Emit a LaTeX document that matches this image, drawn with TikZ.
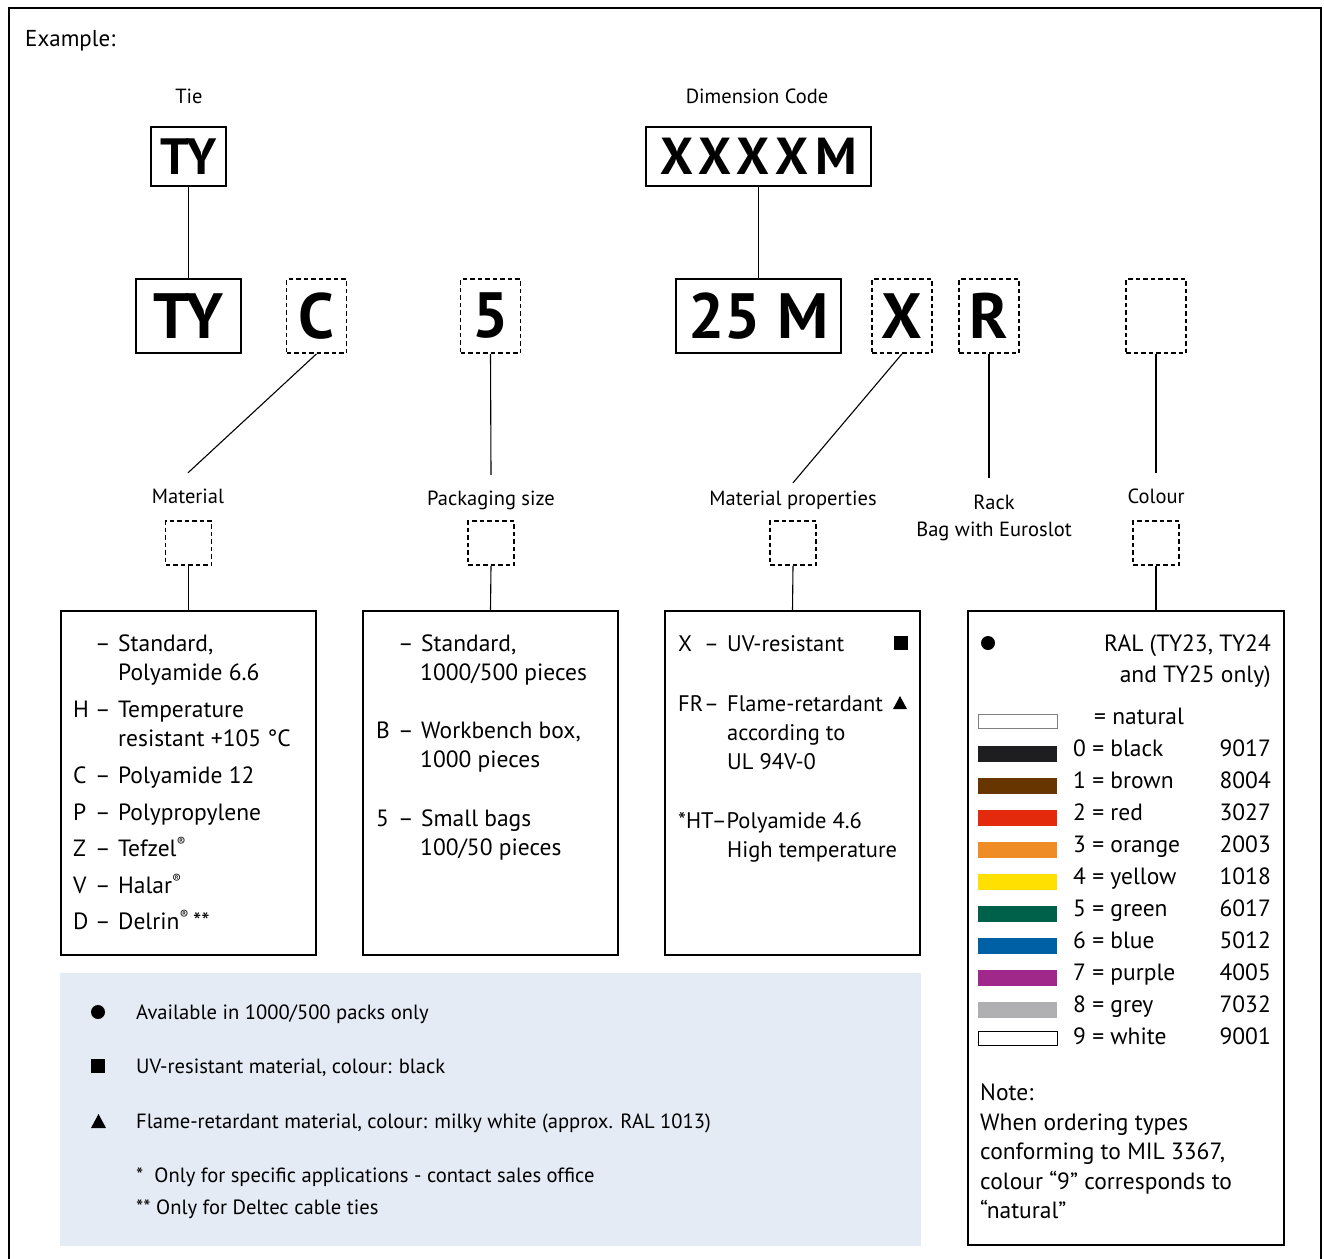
\documentclass[tikz,border=0pt]{standalone}
\usepackage{fontspec}
\setmainfont{PT Sans}

\definecolor{panelblue}{HTML}{E4EBF5}
\definecolor{ralblack}{HTML}{1E1E20}
\definecolor{ralbrown}{HTML}{673500}
\definecolor{ralred}{HTML}{E32A0C}
\definecolor{ralorange}{HTML}{F08C26}
\definecolor{ralyellow}{HTML}{FFE000}
\definecolor{ralgreen}{HTML}{00614A}
\definecolor{ralblue}{HTML}{0060A5}
\definecolor{ralpurple}{HTML}{A0288A}
\definecolor{ralgrey}{HTML}{B0B0B2}

\newcommand{\fsz}[1]{\fontsize{#1}{#1}\selectfont}
\newcommand{\reg}{\textsuperscript{\fsz{13}®}}
% letter, dash and text of one list entry
\newcommand{\entry}[3][22pt]{\makebox[#1][l]{#2}\makebox[23pt][l]{–}#3}

\tikzset{
  codebox/.style={draw, line width=1.3pt, inner sep=0pt, font=\bfseries\fsz{64}},
  optbox/.style={codebox, dash pattern=on 4.5pt off 3pt, line width=1.7pt,
    minimum width=60pt, minimum height=74pt},
  selbox/.style={draw, dash pattern=on 4.5pt off 3pt, line width=1.7pt,
    minimum width=46pt, minimum height=44pt, inner sep=0pt},
  capt/.style={font=\fsz{20.5}, align=center, inner sep=2pt, text height=14pt, text depth=4pt},
  listbox/.style={draw, line width=1.1pt, inner sep=0pt},
  txt/.style={anchor=base west, inner sep=0pt, font=\fsz{23.5}},
  rtxt/.style={anchor=base east, inner sep=0pt, font=\fsz{23.5}},
  ptxt/.style={txt, font=\fsz{22.5}},
  foot/.style={anchor=base west, inner sep=0pt, font=\fsz{20.6}},
  wire/.style={line width=1.1pt},
}

\begin{document}
\begin{tikzpicture}[x=1pt, y=-1pt]
\useasboundingbox (0,0) rectangle (1324,1258);

% frame, open at the bottom
\draw[line width=2.5pt] (9,1260) -- (9,8) -- (1321,8) -- (1321,1260);
\node[anchor=base west, inner sep=0pt, font=\fsz{23}] (example) at (25,46) {Example:};

% blue note panel
\fill[panelblue] (60,973) rectangle (921,1246);

% code heads
\node[capt] (tieCap) at (189,98) {Tie};
\node[capt] (dimCap) at (757,98) {Dimension Code};
\node[codebox, font=\bfseries\fsz{51}, minimum width=75pt, minimum height=59pt] (tyTop) at (188.5,156.5) {TY};
\node[codebox, font=\bfseries\fsz{52}\addfontfeature{LetterSpace=14}, minimum width=225pt, minimum height=59pt] (dimTop) at (758.5,156.5) {XXXXM};

% the example code
\node[codebox, minimum width=105pt, minimum height=74pt] (tyCode) at (188.5,316) {TY};
\node[optbox] (cOpt) at (316.5,316) {C};
\node[optbox] (fiveOpt) at (490.5,316) {5};
\node[codebox, minimum width=165pt, minimum height=74pt] (dimCode) at (758.5,316) {25 M};
\node[optbox] (xOpt) at (902,316) {X};
\node[optbox] (rOpt) at (989,316) {R};
\node[optbox] (colOpt) at (1156,316) {};

\draw[wire] (tyTop.south) -- (tyCode.north);
\draw[wire] (dimTop.south) -- (dimCode.north);

% captions of the options
\node[capt] (matCap) at (188,498) {Material};
\node[capt] (packCap) at (491,500) {Packaging size};
\node[capt] (propCap) at (793,500) {Material properties};
\node[capt, text height={}, text depth={}, font=\fontsize{20.5}{27}\selectfont] (rackCap) at (994,518) {Rack\\Bag with Euroslot};
\node[capt] (colCap) at (1156,498) {Colour};
\coordinate (rackTop) at (989,478);

\draw[wire] (cOpt.south) -- ([yshift=14pt]matCap.north);
\draw[wire] (fiveOpt.south) -- ([yshift=14pt]packCap.north);
\draw[wire] (xOpt.south) -- ([yshift=6pt]propCap.north);
\draw[wire] (rOpt.south) -- (rackTop);
\draw[wire] (colOpt.south) -- ([yshift=14pt]colCap.north);

% empty selection boxes
\node[selbox] (matSel) at (188.5,543) {};
\node[selbox] (packSel) at (491,543) {};
\node[selbox] (propSel) at (793,543) {};
\node[selbox] (colSel) at (1156,543) {};

% list boxes
\node[listbox, minimum width=255pt, minimum height=344pt] (matBox) at (188.5,783) {};
\node[listbox, minimum width=255pt, minimum height=344pt] (packBox) at (490.5,783) {};
\node[listbox, minimum width=255pt, minimum height=344pt] (propBox) at (792.5,783) {};
\node[listbox, minimum width=316pt, minimum height=634pt] (colBox) at (1126,928) {};

\draw[wire] (matSel.south) -- (matBox.north);
\draw[wire] (packSel.south) -- (packBox.north);
\draw[wire] (propSel.south) -- (propBox.north);
\draw[wire] (colSel.south) -- (colSel.south |- colBox.north);

% Material
\node[txt] (mat1) at (73,651) {\entry{}{Standard,}};
\node[txt] (mat1b) at (118,680) {Polyamide 6.6};
\node[txt] (mat2) at (73,717) {\entry{H}{Temperature}};
\node[txt] (mat2b) at (118,746) {resistant +105 °C};
\node[txt] (mat3) at (73,783) {\entry{C}{Polyamide 12}};
\node[txt] (mat4) at (73,820) {\entry{P}{Polypropylene}};
\node[txt] (mat5) at (73,856) {\entry{Z}{Tefzel\reg}};
\node[txt] (mat6) at (73,893) {\entry{V}{Halar\reg}};
\node[txt] (mat7) at (73,929) {\entry{D}{Delrin\reg\,**}};

% Packaging size
\node[txt] (pack1) at (376,651) {\entry{}{Standard,}};
\node[txt] (pack1b) at (420,680) {1000/500 pieces};
\node[txt] (pack2) at (376,738) {\entry{B}{Workbench box,}};
\node[txt] (pack2b) at (420,767) {1000 pieces};
\node[txt] (pack3) at (376,826) {\entry{5}{Small bags}};
\node[txt] (pack3b) at (420,855) {100/50 pieces};

% Material properties
\node[ptxt] (prop1) at (678,651) {\entry[26pt]{X}{UV-resistant}};
\node[ptxt] (prop2) at (678,711) {\entry[26pt]{FR}{Flame-retardant}};
\node[ptxt] (prop2b) at (727,740) {according to};
\node[ptxt] (prop2c) at (727,769) {UL 94V-0};
\node[ptxt] (prop3) at (678,828) {*HT–Polyamide 4.6};
\node[ptxt] (prop3b) at (727,857) {High temperature};
\fill (894,636) rectangle (908,650);
\fill (893,709) -- (907,709) -- (900,696) -- cycle;

% Colour
\fill (988,643) circle (7);
\node[rtxt] (ral1) at (1271,651) {RAL (TY23, TY24};
\node[rtxt] (ral2) at (1271,682) {and TY25 only)};
\draw[gray, line width=1pt] (978,714) rectangle (1057,728);
\node[txt] (natural) at (1094,724) {= natural};
\foreach \i/\cname/\cc/\ral in {0/black/ralblack/9017, 1/brown/ralbrown/8004,
    2/red/ralred/3027, 3/orange/ralorange/2003, 4/yellow/ralyellow/1018,
    5/green/ralgreen/6017, 6/blue/ralblue/5012, 7/purple/ralpurple/4005,
    8/grey/ralgrey/7032} {
  \fill[\cc] (978,746+32*\i) rectangle (1057,762+32*\i);
  \node[txt] (col\i) at (1073,756+32*\i) {\i\ = \cname};
  \node[rtxt] (ral\i) at (1271,756+32*\i) {\ral};
}
\draw[line width=1pt] (978,1031) rectangle (1057,1045);
\node[txt] (col9) at (1073,1044) {9 = white};
\node[rtxt] (ral9) at (1271,1044) {9001};

\node[txt, align=left, anchor=north west, font=\fontsize{23.5}{29.5}\selectfont] (note) at (980,1084)
  {Note:\\When ordering types\\conforming to MIL 3367,\\colour “9” corresponds to\\“natural”};

% notes in the panel
\fill (98,1012) circle (7);
\node[foot] (noteDot) at (136,1019) {Available in 1000/500 packs only};
\fill (91,1059) rectangle (105,1073);
\node[foot] (noteSq) at (136,1073) {UV-resistant material, colour: black};
\fill (91,1128) -- (106,1128) -- (98.5,1114) -- cycle;
\node[foot] (noteTri) at (136,1128) {Flame-retardant material, colour: milky white (approx. RAL 1013)};
\node[foot] (star1) at (136,1182) {*\ \ Only for specific applications - contact sales office};
\node[foot] (star2) at (136,1214) {** Only for Deltec cable ties};
\end{tikzpicture}
\end{document}
